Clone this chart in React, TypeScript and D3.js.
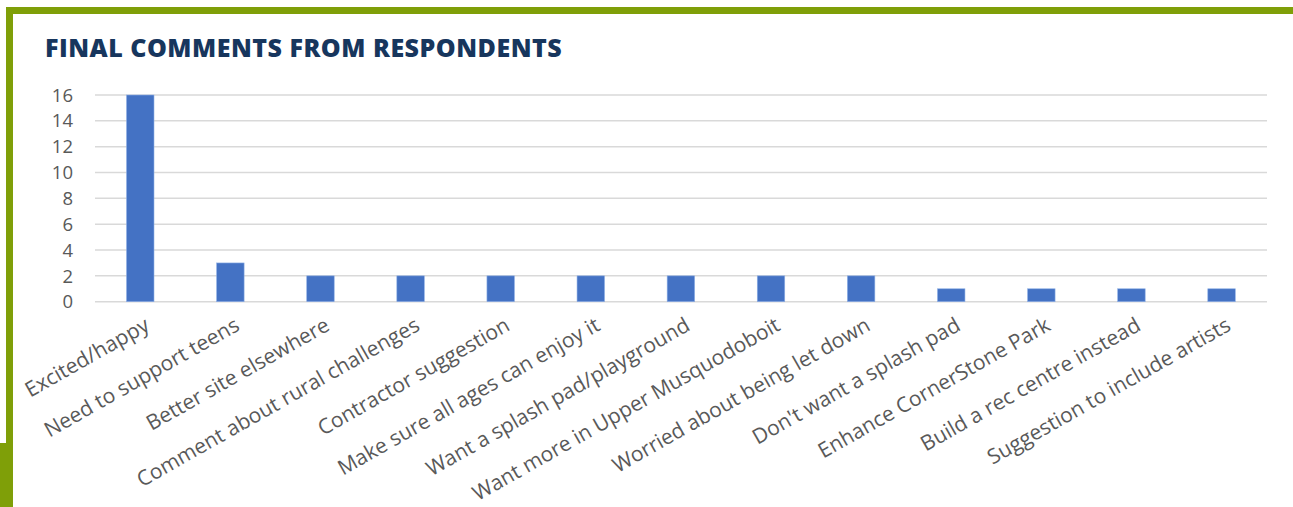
import React from "react";
import * as d3 from "d3";

const categories = [
  "Excited/happy",
  "Need to support teens",
  "Better site elsewhere",
  "Comment about rural challenges",
  "Contractor suggestion",
  "Make sure all ages can enjoy it",
  "Want a splash pad/playground",
  "Want more in Upper Musquodoboit",
  "Worried about being let down",
  "Don't want a splash pad",
  "Enhance CornerStone Park",
  "Build a rec centre instead",
  "Suggestion to include artists",
];
const counts = [16, 3, 2, 2, 2, 2, 2, 2, 2, 1, 1, 1, 1];
const yTicks = [0, 2, 4, 6, 8, 10, 12, 14, 16];
const title = "FINAL COMMENTS FROM RESPONDENTS";

const W = 1293;
const H = 507;

export default function App() {
  const x = d3.scaleBand<string>().domain(categories).range([95.2, 1266.6]).paddingInner(0.695).paddingOuter(0.3475);
  const y = d3.scaleLinear().domain([0, 16]).range([301.7, 95]);
  const font = "'Open Sans', 'Noto Sans', sans-serif";
  const green = "#7f9f08";
  return (
    <svg width={W} height={H} style={{ position: "absolute", left: 0, top: 0, background: "#fff" }}>
      <rect x={0} y={0} width={W} height={H} fill="#fff" />
      <rect x={6} y={7} width={W - 6} height={7} fill={green} />
      <rect x={6} y={7} width={7} height={440} fill={green} />
      <rect x={0} y={443} width={13} height={H - 443} fill={green} />
      <text x={45} y={57} fontFamily={font} fontWeight={800} fontSize={25} letterSpacing={0.5} fill="#17365d">
        {title}
      </text>
      {yTicks.map((t) => (
        <g key={t}>
          <line x1={95} x2={1267} y1={y(t)} y2={y(t)} stroke="#d9d9d9" strokeWidth={1.5} />
          <text x={73} y={y(t)} dy="0.36em" textAnchor="end" fontFamily={font} fontSize={18.5} fill="#595959">
            {t}
          </text>
        </g>
      ))}
      {categories.map((c, i) => (
        <rect key={c} x={x(c)} y={y(counts[i])} width={x.bandwidth()} height={y(0) - y(counts[i])} fill="#4472c4" stroke="#8fb0e6" strokeWidth={0.6} />
      ))}
      {categories.map((c) => {
        const cx = (x(c) as number) + x.bandwidth() / 2 + 7;
        const cy = 323;
        return (
          <text key={c} transform={`translate(${cx},${cy}) rotate(-29.5)`} textAnchor="end" dy="0.35em" fontFamily={font} fontSize={21} fill="#595959">
            {c}
          </text>
        );
      })}
    </svg>
  );
}
